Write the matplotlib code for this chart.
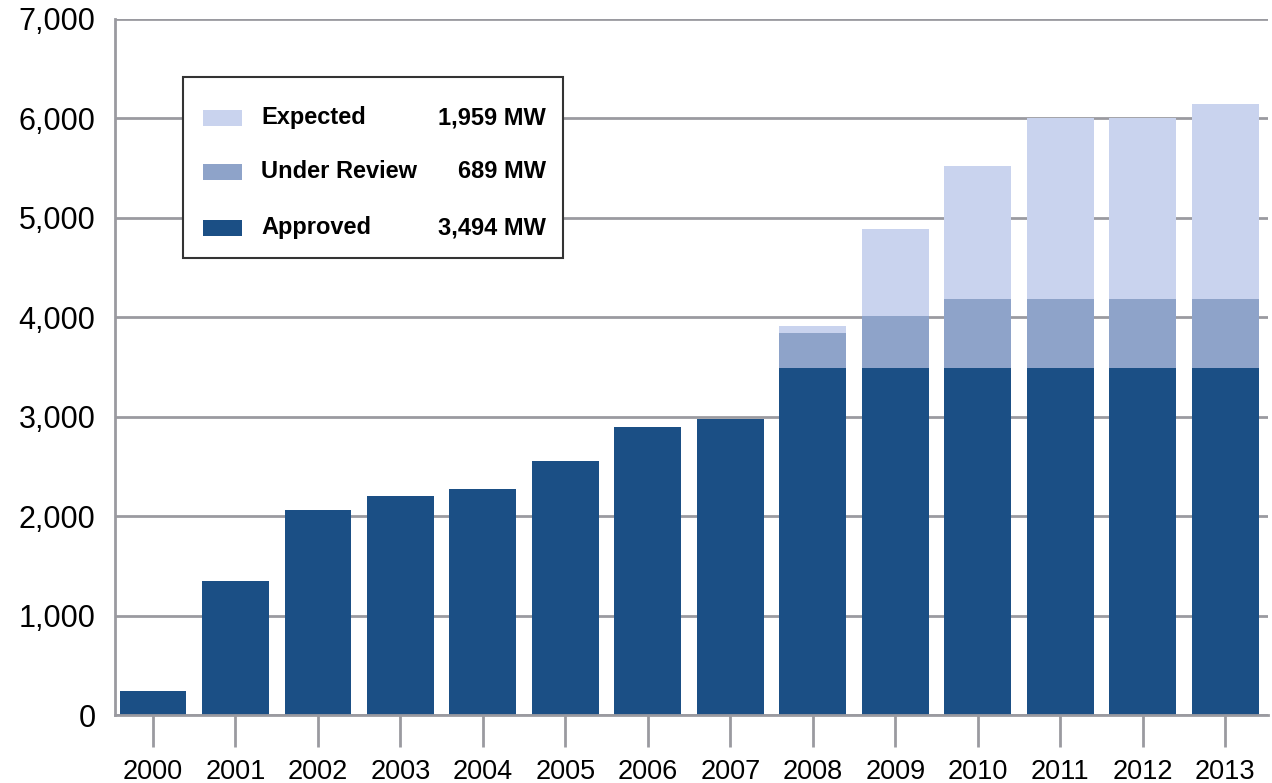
import numpy as np
import matplotlib.pyplot as plt
from matplotlib.patches import Rectangle

years = ['2000', '2001', '2002', '2003', '2004', '2005', '2006',
         '2007', '2008', '2009', '2010', '2011', '2012', '2013']
approved = [240, 1350, 2060, 2200, 2270, 2550, 2900,
            2980, 3494, 3494, 3494, 3494, 3494, 3494]
under_review = [0, 0, 0, 0, 0, 0, 0,
                0, 350, 520, 689, 689, 689, 689]
expected = [0, 0, 0, 0, 0, 0, 0,
            0, 70, 870, 1340, 1820, 1820, 1959]

legend_names = ['Expected', 'Under Review', 'Approved']
legend_totals = ['1,959 MW', '689 MW', '3,494 MW']

c_app = '#1b4f85'
c_rev = '#8ea3c9'
c_exp = '#c9d3ee'
c_grid = '#9a9aa0'

plt.rcParams['font.family'] = ['Liberation Sans', 'DejaVu Sans']

fig = plt.figure(figsize=(12.72, 7.83), dpi=100)
ax = fig.add_axes([0.0904, 0.0868, 0.9066, 0.889])

x = np.arange(len(years))
w = 0.81
app = np.array(approved)
rev = np.array(under_review)
exp_ = np.array(expected)
ax.bar(x, app, w, color=c_app, zorder=2)
ax.bar(x, rev, w, bottom=app, color=c_rev, zorder=2)
ax.bar(x, exp_, w, bottom=app + rev, color=c_exp, zorder=2)

ax.set_ylim(0, 7000)
ax.set_xlim(-0.46, 13.52)
ax.set_yticks(range(0, 7001, 1000))
ax.set_yticklabels([f'{v:,}' for v in range(0, 7001, 1000)], fontsize=22)
ax.set_xticks(x)
ax.set_xticklabels(years, fontsize=19.5)
ax.yaxis.grid(True, color=c_grid, linewidth=2, zorder=0)
ax.set_axisbelow(True)
ax.tick_params(axis='y', length=0, pad=14)
ax.tick_params(axis='x', length=23, width=2, color=c_grid, pad=9)
for s in ['top', 'right']:
    ax.spines[s].set_visible(False)
for s in ['left', 'bottom']:
    ax.spines[s].set_color(c_grid)
    ax.spines[s].set_linewidth(2)

# legend box drawn by hand, in axes coordinates
trans = ax.transAxes
def ax_xy(px, py):
    return ((px - 115) / 1153.0, (715 - py) / 696.0)

x0, y0 = ax_xy(183, 258)
x1, y1 = ax_xy(563, 77)
ax.add_patch(Rectangle((x0, y0), x1 - x0, y1 - y0, transform=trans,
                       facecolor='white', edgecolor='#333333', linewidth=1.5, zorder=5))
cols = [c_exp, c_rev, c_app]
rows_py = [118, 172, 228]
for name, tot, col, py in zip(legend_names, legend_totals, cols, rows_py):
    sx0, sy0 = ax_xy(203, py + 8)
    sx1, sy1 = ax_xy(242, py - 8)
    ax.add_patch(Rectangle((sx0, sy0), sx1 - sx0, sy1 - sy0, transform=trans,
                           facecolor=col, edgecolor='none', zorder=6))
    tx, ty = ax_xy(261, py)
    ax.text(tx, ty, name, transform=trans, fontsize=17, fontweight='bold',
            va='center', ha='left', zorder=7)
    rx, _ = ax_xy(546, py)
    ax.text(rx, ty, tot, transform=trans, fontsize=17, fontweight='bold',
            va='center', ha='right', zorder=7)

fig.savefig('out.png', dpi=100)
